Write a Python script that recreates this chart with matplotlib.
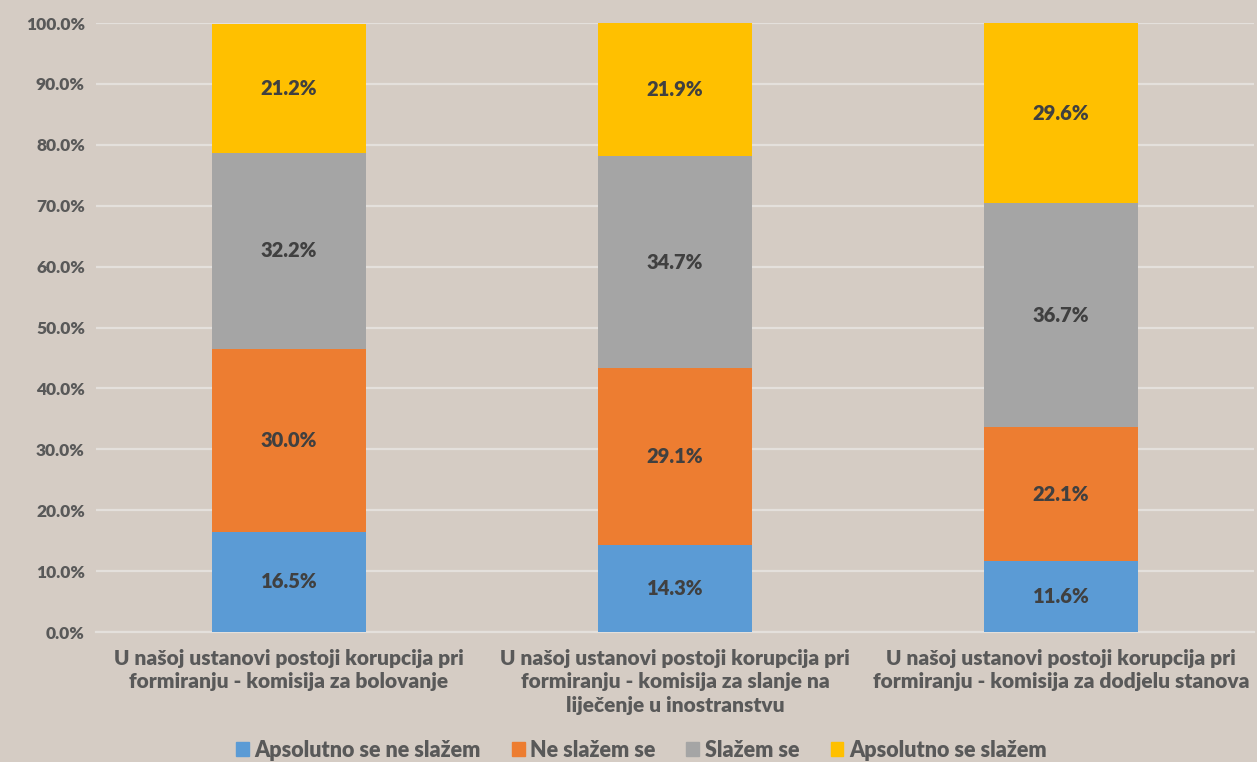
import numpy as np
import matplotlib as mpl, matplotlib.pyplot as plt
from matplotlib.ticker import FuncFormatter, MultipleLocator
from matplotlib.patches import Patch

BG = "#D5CCC4"; GRID = "#E4E0DC"; TICK = "#595959"; LAB = "#404040"
mpl.rcParams.update({"font.family": ["Lato", "DejaVu Sans"], "font.weight": "heavy"})

categories = ["U našoj ustanovi postoji korupcija pri\nformiranju - komisija za bolovanje",
              "U našoj ustanovi postoji korupcija pri\nformiranju - komisija za slanje na\nliječenje u inostranstvu",
              "U našoj ustanovi postoji korupcija pri\nformiranju - komisija za dodjelu stanova"]
series = ["Apsolutno se ne slažem", "Ne slažem se", "Slažem se", "Apsolutno se slažem"]
apsolutno_ne = [16.5, 14.3, 11.6]
ne_slazem = [30.0, 29.1, 22.1]
slazem = [32.2, 34.7, 36.7]
apsolutno_da = [21.2, 21.9, 29.6]
colors = ["#5B9BD5", "#ED7D31", "#A5A5A5", "#FFC000"]

fig = plt.figure(figsize=(12.57, 7.62), dpi=100)
fig.patch.set_facecolor(BG)
ax = fig.add_axes([0.0764, 0.1706, 0.9212, 0.7992])
ax.set_facecolor(BG)

x = np.arange(len(categories))
bottom = np.zeros(len(categories))
for name, vals, c in zip(series, [apsolutno_ne, ne_slazem, slazem, apsolutno_da], colors):
    v = np.array(vals)
    ax.bar(x, v, 0.4, bottom=bottom, color=c, zorder=3, label=name)
    for xi, b, h in zip(x, bottom, v):
        ax.text(xi, b + h / 2, f"{h:.1f}%", ha="center", va="center",
                fontsize=14.5, weight="heavy", color=LAB, zorder=4)
    bottom += v

ax.set_xlim(-0.5, 2.5); ax.set_ylim(0, 100)
ax.yaxis.set_major_locator(MultipleLocator(10))
ax.yaxis.set_major_formatter(FuncFormatter(lambda v, _: f"{v:.1f}%"))
ax.grid(axis="y", color=GRID, lw=1.6, zorder=0); ax.set_axisbelow(True)
for s in ["top", "right", "left"]: ax.spines[s].set_visible(False)
ax.spines["bottom"].set_color(GRID); ax.spines["bottom"].set_linewidth(1.6)
ax.tick_params(length=0, colors=TICK, labelsize=12.5, pad=8)
ax.tick_params(axis="x", pad=12)
ax.set_xticks(x); ax.set_xticklabels(categories, fontsize=15, color=TICK, va="top",
                                     linespacing=1.3)

handles = [Patch(color=c) for c in colors]
fig.legend(handles, series, loc="lower center", bbox_to_anchor=(0.51, -0.024), ncol=4,
           frameon=False, fontsize=15.5, handlelength=0.6, handleheight=0.6,
           handletextpad=0.25, columnspacing=1.45, labelcolor=TICK)

fig.savefig("out.png", dpi=100, facecolor=BG)
